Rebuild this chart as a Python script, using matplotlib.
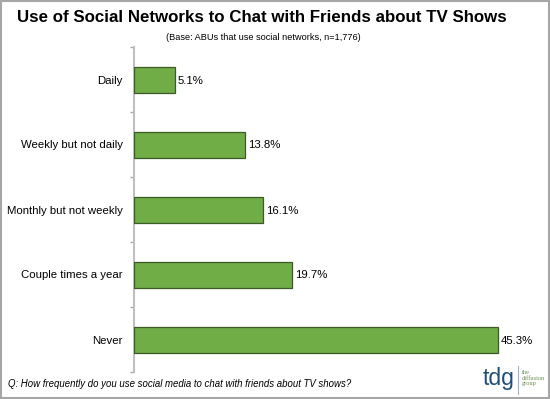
import matplotlib
matplotlib.use("Agg")
import matplotlib.pyplot as plt
from matplotlib.patches import Rectangle

plt.rcParams['font.family'] = ['Liberation Sans', 'DejaVu Sans']

categories = ["Daily", "Weekly but not daily", "Monthly but not weekly", "Couple times a year", "Never"]
values = [5.1, 13.8, 16.1, 19.7, 45.3]
value_labels = ["5.1%", "13.8%", "16.1%", "19.7%", "45.3%"]

W, H = 550, 399
fig = plt.figure(figsize=(W/100, H/100), dpi=100)
fig.patch.set_facecolor('white')

# outer frame
fig.patches.append(Rectangle((0.001, 0.002), 0.997, 0.996, transform=fig.transFigure,
                             fill=False, edgecolor='#A6A6A6', linewidth=1.5))

left = 134/W
right = 530/W
top = 1 - 47/H
bottom = 1 - 372/H
ax = fig.add_axes([left, bottom, right-left, top-bottom])

n = len(categories)
ypos = list(range(n))
ax.barh(ypos, values, height=0.4, color='#70AD47', edgecolor='#3B5A26', linewidth=0.9, zorder=3)
ax.set_ylim(n-0.5, -0.5)
ax.set_xlim(0, 396/8.04)

for y, v, lab in zip(ypos, values, value_labels):
    ax.text(v + 0.35, y, lab, va='center_baseline', ha='left', fontsize=8.2, color='black')

ax.set_yticks(ypos)
ax.set_yticklabels(categories, fontsize=8.2, va='center_baseline')
ax.tick_params(axis='y', which='major', length=0, pad=8)
ax.set_yticks([i - 0.5 for i in range(n+1)], minor=True)
ax.tick_params(axis='y', which='minor', length=3, color='#A6A6A6', width=1)
ax.set_xticks([])
for s in ['top', 'right', 'bottom']:
    ax.spines[s].set_visible(False)
ax.spines['left'].set_color('#BFBFBF')
ax.spines['left'].set_linewidth(1.5)

fig.text(262/W, 1 - 18/H, "Use of Social Networks to Chat with Friends about TV Shows",
         ha='center', va='center', fontsize=12.2, fontweight='bold')
fig.text(263/W, 1 - 37/H, "(Base: ABUs that use social networks, n=1,776)",
         ha='center', va='center', fontsize=6.6)
fig.text(8/W, 1 - 384/H, "Q: How frequently do you use social media to chat with friends about TV shows?",
         ha='left', va='center', fontsize=6.9, style='italic')

# logo
fig.text(499/W, 1 - 379/H, "tdg", ha='center', va='center', fontsize=16.5, color='#1F4E79')
fig.add_artist(plt.Line2D([518/W, 518/W], [1 - 366/H, 1 - 394/H], color='#9DB3C9', linewidth=0.8))
fig.text(522/W, 1 - 378/H, "the\ndiffusion\ngroup", ha='left', va='center', fontsize=4.6,
         color='#6B8E4E', family='Liberation Serif', linespacing=1.0)

fig.savefig("out.png", dpi=100, facecolor='white')
